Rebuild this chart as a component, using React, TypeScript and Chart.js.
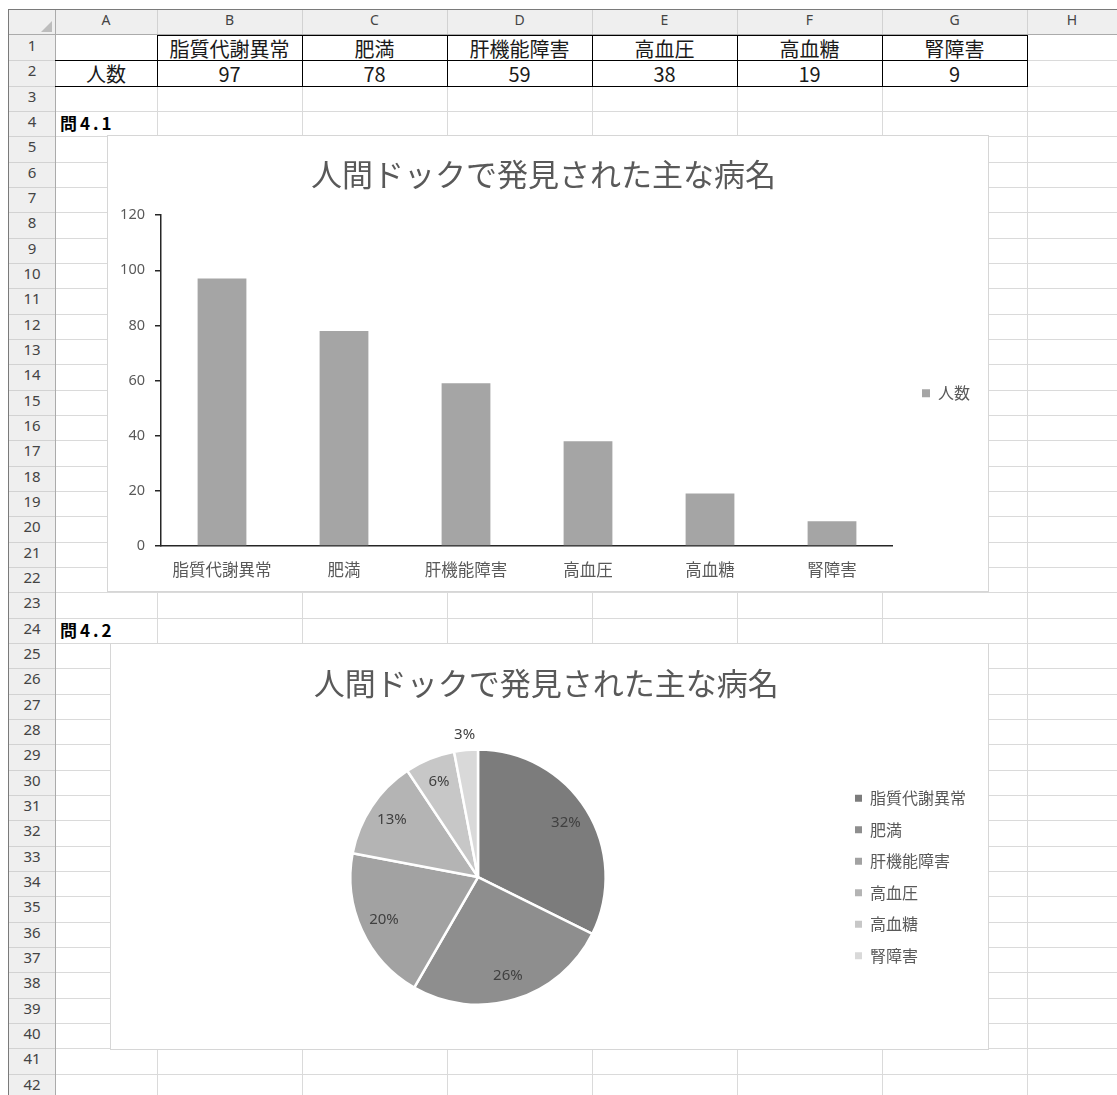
import React, { useEffect, useRef } from "react";
import { Chart, registerables } from "chart.js";

Chart.register(...registerables);

// ---------- data ----------
const categories = ["脂質代謝異常", "肥満", "肝機能障害", "高血圧", "高血糖", "腎障害"];
const counts = [97, 78, 59, 38, 19, 9];
const seriesName = "人数";
const chartTitle = "人間ドックで発見された主な病名";
const yMin = 0;
const yMax = 120;
const yStep = 20;
const columnLetters = ["A", "B", "C", "D", "E", "F", "G", "H"];
const questionLabels = ["問4.1", "問4.2"];
const barColor = "#a5a5a5";
const pieColors = ["#7c7c7c", "#8e8e8e", "#a2a2a2", "#b4b4b4", "#c7c7c7", "#d9d9d9"];

// ---------- layout ----------
const FONT = "'Noto Sans', 'Noto Sans CJK JP', sans-serif";
const CJK = "'Noto Sans CJK JP', 'Noto Sans', sans-serif";
const COLS = [55, 157, 302, 447, 592, 737, 882, 1027, 1117];
const ROW_TOP = 35;
const ROW_H = 25.33;
const NROWS = 42;
const rowY = (i: number) => Math.round(ROW_TOP + i * ROW_H);

const BAR_BOX = { left: 107, top: 135, width: 882, height: 457 };
const PIE_BOX = { left: 110, top: 643, width: 879, height: 407 };

function BarChart() {
  const ref = useRef<HTMLCanvasElement>(null);
  useEffect(() => {
    const chart = new Chart(ref.current!, {
      type: "bar",
      data: {
        labels: categories,
        datasets: [
          {
            label: seriesName,
            data: counts,
            backgroundColor: barColor,
            borderWidth: 0,
            barPercentage: 0.4,
            categoryPercentage: 1,
          },
        ],
      },
      options: {
        animation: false,
        responsive: false,
        maintainAspectRatio: false,
        layout: { padding: { left: 0, right: 9, top: 0, bottom: 0 } },
        plugins: {
          title: {
            display: true,
            text: chartTitle,
            color: "#595959",
            font: { family: CJK, size: 31, weight: "normal" },
            padding: { top: 21, bottom: 22 },
          },
          legend: {
            position: "right",
            fullSize: false,
            title: { display: true, text: " ", font: { size: 1 }, padding: { top: 12, bottom: 12 } },
            labels: {
              boxWidth: 8,
              boxHeight: 8,
              padding: 29,
              color: "#595959",
              font: { family: CJK, size: 16 },
            },
          },
          tooltip: { enabled: false },
        },
        scales: {
          x: {
            grid: { display: false, drawTicks: false },
            border: { display: true, color: "#262626", width: 1.5 },
            ticks: { color: "#595959", font: { family: CJK, size: 16.5 }, padding: 14 },
            afterFit: (s: any) => {
              s.height = 46;
            },
          },
          y: {
            min: yMin,
            max: yMax,
            ticks: { stepSize: yStep, color: "#595959", font: { family: FONT, size: 14.5 }, padding: 10 },
            grid: { drawOnChartArea: false, drawTicks: true, tickLength: 6, color: "#262626", lineWidth: 1.5 },
            border: { display: true, color: "#262626", width: 1.5 },
            afterFit: (s: any) => {
              s.width = 54;
            },
          },
        },
      },
    } as any);
    return () => chart.destroy();
  }, []);
  return (
    <canvas
      ref={ref}
      width={BAR_BOX.width}
      height={BAR_BOX.height}
      style={{ position: "absolute", left: BAR_BOX.left, top: BAR_BOX.top, width: BAR_BOX.width, height: BAR_BOX.height }}
    />
  );
}

const pieLabelPlugin = {
  id: "pieLabels",
  afterDatasetsDraw(chart: any) {
    const meta = chart.getDatasetMeta(0);
    const data = chart.data.datasets[0].data as number[];
    const total = data.reduce((a, b) => a + b, 0);
    const ctx = chart.ctx;
    ctx.save();
    ctx.font = `15px ${FONT}`;
    ctx.fillStyle = "#404040";
    ctx.textAlign = "center";
    ctx.textBaseline = "middle";
    meta.data.forEach((arc: any, i: number) => {
      const { x, y, startAngle, endAngle, outerRadius } = arc.getProps(
        ["x", "y", "startAngle", "endAngle", "outerRadius"],
        true
      );
      const mid = (startAngle + endAngle) / 2;
      const pct = (data[i] / total) * 100;
      const r = pct >= 5 ? outerRadius * 0.81 : outerRadius + 15;
      ctx.fillText(Math.round(pct) + "%", x + Math.cos(mid) * r, y + Math.sin(mid) * r);
    });
    ctx.restore();
  },
};

function PieChart() {
  const ref = useRef<HTMLCanvasElement>(null);
  useEffect(() => {
    const chart = new Chart(ref.current!, {
      type: "pie",
      data: {
        labels: categories,
        datasets: [
          {
            label: seriesName,
            data: counts,
            backgroundColor: pieColors,
            borderColor: "#ffffff",
            borderWidth: 2.5,
          },
        ],
      },
      options: {
        animation: false,
        responsive: false,
        maintainAspectRatio: false,
        layout: { padding: { left: 6.5, right: 13, top: 0, bottom: 44 } },
        plugins: {
          title: {
            display: true,
            text: chartTitle,
            color: "#595959",
            font: { family: CJK, size: 31, weight: "normal" },
            padding: { top: 22, bottom: 46 },
          },
          legend: {
            position: "right",
            fullSize: false,
            labels: {
              boxWidth: 7,
              boxHeight: 7,
              padding: 15.5,
              color: "#595959",
              font: { family: CJK, size: 16 },
              generateLabels: (c: any) =>
                (Chart as any).overrides.pie.plugins.legend.labels
                  .generateLabels(c)
                  .map((l: any) => ({ ...l, lineWidth: 0 })),
            },
          },
          tooltip: { enabled: false },
        },
      },
      plugins: [pieLabelPlugin],
    } as any);
    return () => chart.destroy();
  }, []);
  return (
    <canvas
      ref={ref}
      width={PIE_BOX.width}
      height={PIE_BOX.height}
      style={{ position: "absolute", left: PIE_BOX.left, top: PIE_BOX.top, width: PIE_BOX.width, height: PIE_BOX.height }}
    />
  );
}

function Line({ x, y, w, h, c }: { x: number; y: number; w: number; h: number; c: string }) {
  return <div style={{ position: "absolute", left: x, top: y, width: w, height: h, background: c }} />;
}

export default function App() {
  const els: React.ReactNode[] = [];
  let k = 0;
  // header bands
  els.push(<div key={k++} style={{ position: "absolute", left: 9, top: 10, width: 1108, height: 25, background: "#efefef" }} />);
  els.push(<div key={k++} style={{ position: "absolute", left: 9, top: 35, width: 46, height: 1060, background: "#efefef" }} />);
  // corner triangle
  els.push(
    <div
      key={k++}
      style={{
        position: "absolute",
        left: 41,
        top: 21,
        width: 0,
        height: 0,
        borderLeft: "11px solid transparent",
        borderBottom: "11px solid #bdbdbd",
      }}
    />
  );
  // grid lines
  for (let i = 1; i <= NROWS; i++) {
    els.push(<Line key={k++} x={55} y={rowY(i)} w={1062} h={1} c="#dadada" />);
    els.push(<Line key={k++} x={9} y={rowY(i)} w={46} h={1} c="#d2d2d2" />);
  }
  for (let c = 1; c < COLS.length - 1; c++) {
    els.push(<Line key={k++} x={COLS[c]} y={35} w={1} h={1060} c="#dadada" />);
    els.push(<Line key={k++} x={COLS[c]} y={10} w={1} h={25} c="#d2d2d2" />);
  }
  els.push(<Line key={k++} x={55} y={10} w={1} h={25} c="#d2d2d2" />);
  els.push(<Line key={k++} x={9} y={34} w={1108} h={1} c="#ababab" />);
  els.push(<Line key={k++} x={55} y={10} w={1} h={1085} c="#ababab" />);
  // window frame
  els.push(<Line key={k++} x={8} y={9} w={1109} h={1} c="#7a7a7a" />);
  els.push(<Line key={k++} x={8} y={9} w={1} h={1086} c="#7a7a7a" />);
  // column letters
  columnLetters.forEach((L, i) => {
    els.push(
      <div
        key={k++}
        style={{
          position: "absolute",
          left: COLS[i],
          top: 10,
          width: COLS[i + 1] - COLS[i],
          height: 25,
          lineHeight: "25px",
          textAlign: "center",
          font: `14px ${FONT}`,
          color: "#444",
        }}
      >
        {L}
      </div>
    );
  });
  // row numbers
  for (let i = 0; i < NROWS; i++) {
    els.push(
      <div
        key={k++}
        style={{
          position: "absolute",
          left: 9,
          top: rowY(i),
          width: 46,
          height: rowY(i + 1) - rowY(i),
          lineHeight: `${rowY(i + 1) - rowY(i)}px`,
          textAlign: "center",
          font: `15px ${FONT}`,
          color: "#444",
        }}
      >
        {i + 1}
      </div>
    );
  }
  // table borders
  const tTop = rowY(0);
  const tMid = rowY(1);
  const tBot = rowY(2);
  els.push(<Line key={k++} x={COLS[1]} y={tTop} w={COLS[7] - COLS[1] + 1} h={1} c="#000" />);
  els.push(<Line key={k++} x={COLS[0]} y={tMid} w={COLS[7] - COLS[0] + 1} h={1} c="#000" />);
  els.push(<Line key={k++} x={COLS[0]} y={tBot} w={COLS[7] - COLS[0] + 1} h={1} c="#000" />);
  for (let c = 1; c <= 7; c++) {
    els.push(<Line key={k++} x={COLS[c]} y={tTop} w={1} h={tBot - tTop + 1} c="#000" />);
  }
  const cell = (col: number, row: number, text: string, extra: React.CSSProperties = {}) => (
    <div
      key={k++}
      style={{
        position: "absolute",
        left: COLS[col],
        top: rowY(row) - 1,
        width: COLS[col + 1] - COLS[col],
        height: rowY(row + 1) - rowY(row),
        lineHeight: `${rowY(row + 1) - rowY(row)}px`,
        textAlign: "center",
        font: `20px ${CJK}`,
        color: "#1a1a1a",
        whiteSpace: "nowrap",
        ...extra,
      }}
    >
      {text}
    </div>
  );
  categories.forEach((c, i) => els.push(cell(i + 1, 0, c)));
  els.push(cell(0, 1, seriesName));
  counts.forEach((v, i) => els.push(cell(i + 1, 1, String(v))));
  els.push(
    cell(0, 3, questionLabels[0], {
      textAlign: "left",
      paddingLeft: 5,
      font: `bold 17px ${CJK}`,
      letterSpacing: "3px",
      color: "#000",
    })
  );
  els.push(
    cell(0, 23, questionLabels[1], {
      textAlign: "left",
      paddingLeft: 5,
      font: `bold 17px ${CJK}`,
      letterSpacing: "3px",
      color: "#000",
    })
  );
  // chart boxes
  [BAR_BOX, PIE_BOX].forEach((b) =>
    els.push(
      <div
        key={k++}
        style={{
          position: "absolute",
          left: b.left,
          top: b.top,
          width: b.width,
          height: b.height,
          boxSizing: "border-box",
          border: "1px solid #d6d6d6",
          background: "#fff",
        }}
      />
    )
  );
  return (
    <div style={{ position: "absolute", left: 0, top: 0, width: 1117, height: 1095, overflow: "hidden", background: "#fff" }}>
      {els}
      <BarChart />
      <PieChart />
    </div>
  );
}
